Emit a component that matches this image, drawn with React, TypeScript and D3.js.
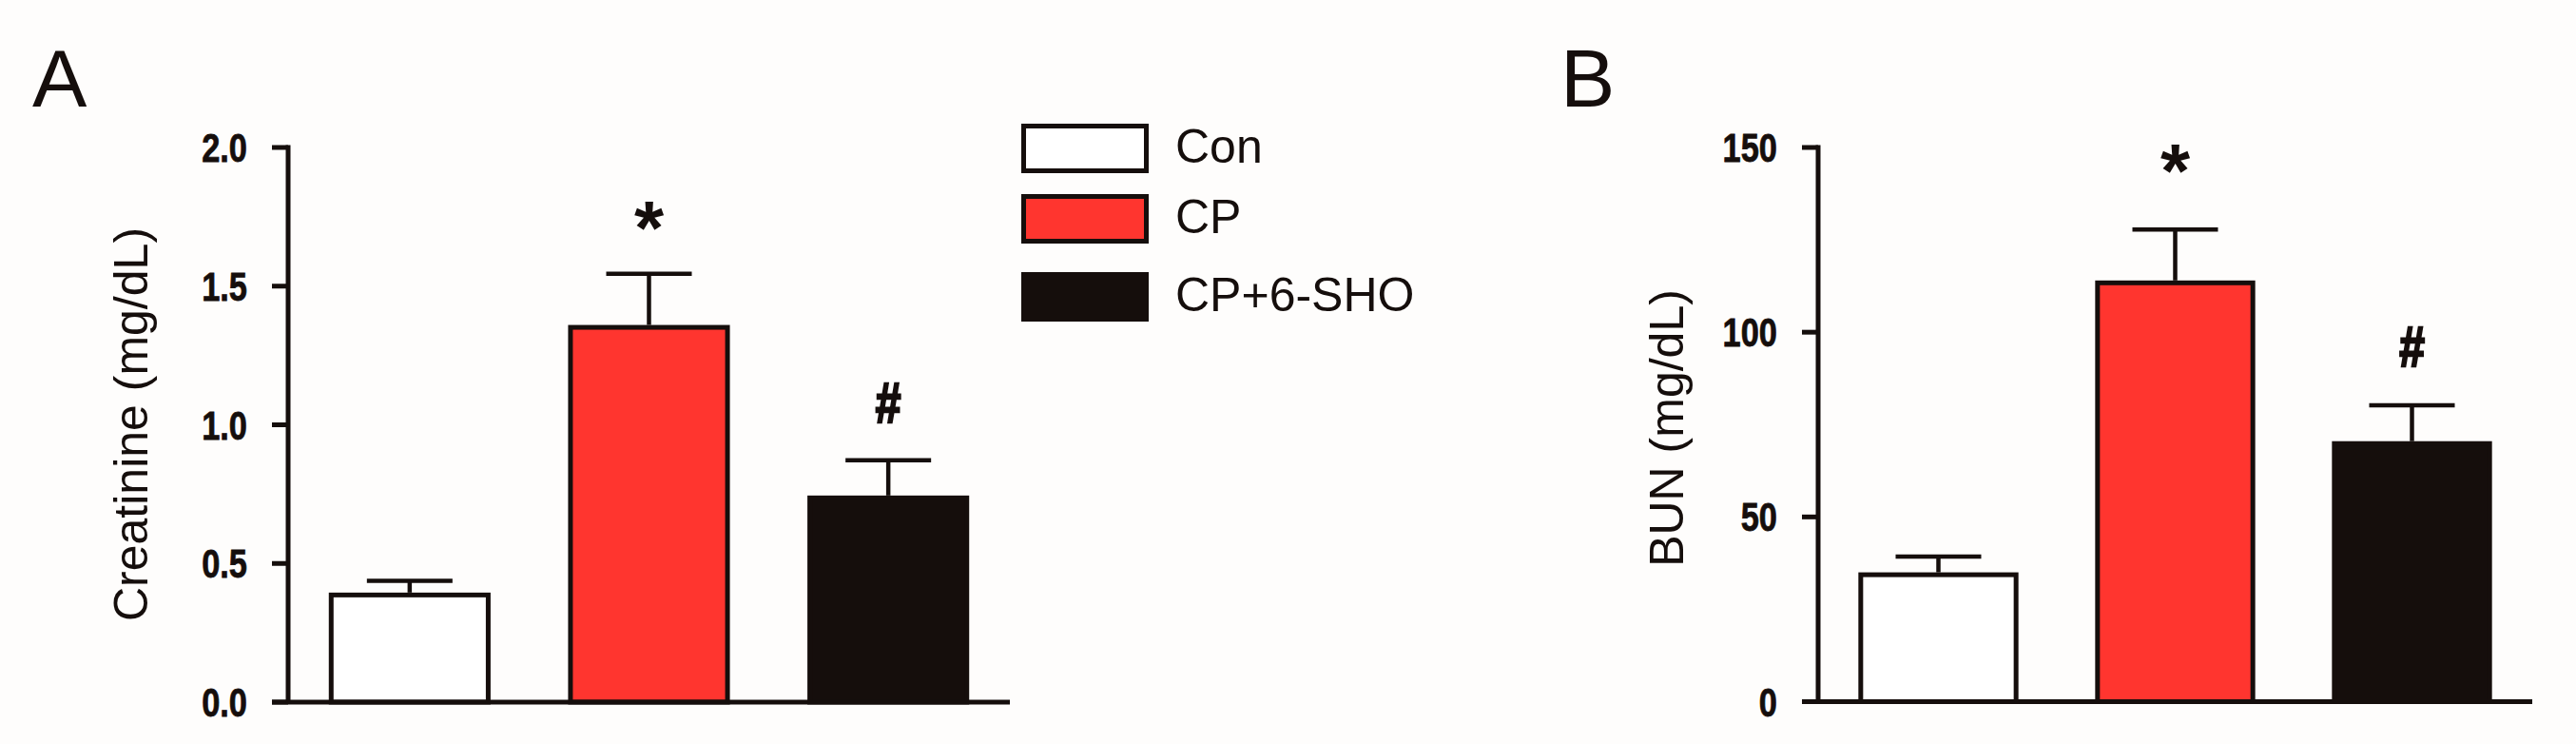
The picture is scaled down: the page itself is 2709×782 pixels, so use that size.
import React from "react";
import * as d3 from "d3";

const categories = ["Con", "CP", "CP+6-SHO"];
const fills = ["#ffffff", "#ff352f", "#150e0c"];
const markers = ["", "*", "#"];

const creatinineMean = [0.395, 1.36, 0.745];
const creatinineSem = [0.042, 0.185, 0.127];
const creatinineTicks = [0, 0.5, 1.0, 1.5, 2.0];

const bunMean = [35, 114, 70.5];
const bunSem = [4.3, 13.8, 9.7];
const bunTicks = [0, 50, 100, 150];

const W = 2709;
const H = 782;
const INK = "#150e0c";
const SANS = "'Liberation Sans', Arial, sans-serif";

type PanelProps = {
  letter: string;
  letterX: number;
  axisX: number;
  xEnd: number;
  y0: number;
  yTop: number;
  domain: [number, number];
  ticks: number[];
  fmt: (v: number) => string;
  means: number[];
  sems: number[];
  title: string;
  titleX: number;
  titleY: number;
  starGap: number;
  hashGap: number;
};

function Panel(p: PanelProps) {
  const y = d3.scaleLinear().domain(p.domain).range([p.y0, p.yTop]);
  const x = d3
    .scaleBand<string>()
    .domain(categories)
    .range([p.axisX, p.xEnd])
    .paddingInner(0.324)
    .paddingOuter(0.17);
  const bw = x.bandwidth();
  const tickLen = 17;
  const sw = 5;
  return (
    <g>
      <text x={p.letterX} y={112} fontFamily={SANS} fontSize={86} fill={INK}>
        {p.letter}
      </text>
      {/* bars */}
      {categories.map((c, i) => {
        const x0 = (x(c) as number) + sw / 2;
        const w = bw - sw;
        const top = y(p.means[i]);
        const errTop = y(p.means[i] + p.sems[i]);
        const cx = (x(c) as number) + bw / 2;
        return (
          <g key={c}>
            <line x1={cx} x2={cx} y1={top} y2={errTop} stroke={INK} strokeWidth={4.5} />
            <line x1={cx - 45} x2={cx + 45} y1={errTop} y2={errTop} stroke={INK} strokeWidth={4.5} />
            <rect
              x={x0}
              y={top + sw / 2}
              width={w}
              height={p.y0 - top - sw / 2}
              fill={fills[i]}
              stroke={INK}
              strokeWidth={sw}
            />
            {markers[i] === "*" && (
              <text x={cx} y={errTop - p.starGap} textAnchor="middle" fontFamily={SANS} fontWeight="bold" fontSize={80} fill={INK}>
                *
              </text>
            )}
            {markers[i] === "#" && (
              <text
                transform={`translate(${cx},${errTop - p.hashGap}) scale(0.8,1)`}
                textAnchor="middle"
                fontFamily={SANS}
                fontWeight="bold"
                fontSize={60}
                fill={INK}
                stroke={INK}
                strokeWidth={2.5}
              >
                #
              </text>
            )}
          </g>
        );
      })}
      {/* y axis */}
      <line x1={p.axisX} x2={p.axisX} y1={p.yTop - 2.5} y2={p.y0} stroke={INK} strokeWidth={sw} />
      {p.ticks.map((t) => (
        <g key={t}>
          <line x1={p.axisX - tickLen} x2={p.axisX} y1={y(t)} y2={y(t)} stroke={INK} strokeWidth={sw} />
          <text
            transform={`translate(${p.axisX - tickLen - 26},${y(t) + 15}) scale(0.8,1)`}
            textAnchor="end"
            fontFamily={SANS}
            fontWeight="bold"
            fontSize={43}
            fill={INK}
            stroke={INK}
            strokeWidth={0.8}
          >
            {p.fmt(t)}
          </text>
        </g>
      ))}
      {/* x axis */}
      <line x1={p.axisX - tickLen} x2={p.xEnd} y1={p.y0} y2={p.y0} stroke={INK} strokeWidth={sw} />
      <text
        transform={`translate(${p.titleX},${p.titleY}) rotate(-90)`}
        textAnchor="middle"
        fontFamily={SANS}
        fontSize={50}
        fill={INK}
      >
        {p.title}
      </text>
    </g>
  );
}

const legendTops = [130, 204, 286];

export default function App() {
  return (
    <svg
      width={W}
      height={H}
      style={{ position: "absolute", left: 0, top: 0, display: "block" }}
      xmlns="http://www.w3.org/2000/svg"
    >
      <rect x={0} y={0} width={W} height={H} fill="#fefdfc" />
      <Panel
        letter="A"
        letterX={34}
        axisX={303}
        xEnd={1062}
        y0={738}
        yTop={155}
        domain={[0, 2]}
        ticks={creatinineTicks}
        fmt={d3.format(".1f")}
        means={creatinineMean}
        sems={creatinineSem}
        title="Creatinine (mg/dL)"
        titleX={155}
        titleY={446}
        starGap={21}
        hashGap={40}
      />
      <Panel
        letter="B"
        letterX={1641}
        axisX={1912}
        xEnd={2663}
        y0={737.5}
        yTop={155}
        domain={[0, 150]}
        ticks={bunTicks}
        fmt={d3.format("d")}
        means={bunMean}
        sems={bunSem}
        title="BUN (mg/dL)"
        titleX={1770}
        titleY={450}
        starGap={34}
        hashGap={41}
      />
      {/* legend */}
      {categories.map((c, i) => (
        <g key={c}>
          <rect
            x={1076.5}
            y={legendTops[i] + 2.5}
            width={129}
            height={47}
            fill={fills[i]}
            stroke={INK}
            strokeWidth={5}
          />
          <text x={1236} y={legendTops[i] + 41} fontFamily={SANS} fontSize={50} fill={INK}>
            {c}
          </text>
        </g>
      ))}
    </svg>
  );
}
